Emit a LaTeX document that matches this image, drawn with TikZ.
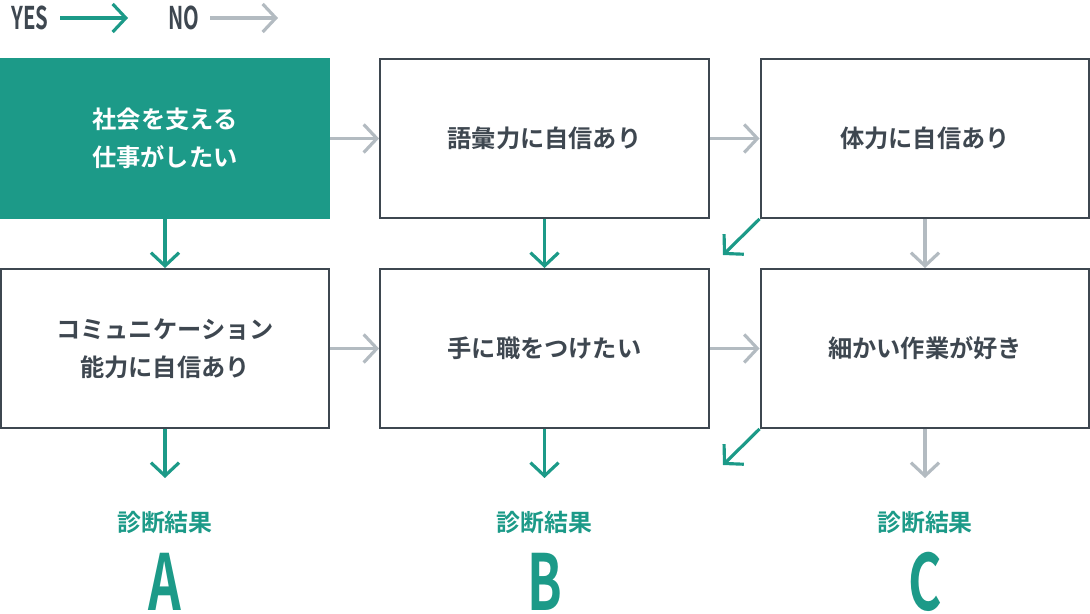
\documentclass[tikz,border=0pt]{standalone}
\usepackage{fontspec}
\setmainfont{Noto Sans CJK JP}[BoldFont={Noto Sans CJK JP Bold}]
\usepackage{tikz}
\usetikzlibrary{arrows.meta}
\definecolor{yescol}{HTML}{1C9A88}
\definecolor{nocol}{HTML}{B3BBC1}
\definecolor{inkcol}{HTML}{3E4750}
\tikzset{
  qbox/.style={draw=inkcol,line width=1.13pt,minimum width=6.58cm,minimum height=3.18cm,
    align=center,text=inkcol,font=\bfseries\fontsize{13.8}{21.5}\selectfont},
  startbox/.style={qbox,fill=yescol,draw=yescol,text=white},
  yesarrow/.style={draw=yescol,line width=1.8pt,-{Straight Barb[length=7.5pt,width=16pt]}},
  noarrow/.style={draw=nocol,line width=1.8pt,-{Straight Barb[length=7.5pt,width=16pt]}},
  result/.style={text=yescol,align=center,font=\bfseries\fontsize{13.6}{20}\selectfont},
  bigletter/.style={text=yescol,inner sep=0pt,font=\bfseries\fontsize{44}{44}\selectfont},
  legend/.style={text=inkcol,inner sep=0pt,font=\bfseries\fontsize{17.8}{18}\selectfont}
}
\begin{document}
\begin{tikzpicture}[x=0.02cm,y=-0.02cm]
\useasboundingbox (0,0) rectangle (1090,614);
% legend
\node[legend] (yes) at (30,18) {\scalebox{0.65}[1]{YES}};
\node[legend] (no) at (184,18) {\scalebox{0.65}[1]{NO}};
\coordinate (yesend) at (128,18);
\coordinate (noend) at (278,18);
\draw[yesarrow] (60,18) -- (yesend);
\draw[noarrow] (210,18) -- (noend);
% questions
\node[startbox] (q1) at (165,138.5) {社会を支える\\仕事がしたい};
\node[qbox] (q2) at (544.5,138.5) {語彙力に自信あり};
\node[qbox] (q3) at (925,138.5) {体力に自信あり};
\node[qbox] (q4) at (165,348.5) {コミュニケーション\\能力に自信あり};
\node[qbox] (q5) at (544.5,348.5) {手に職をつけたい};
\node[qbox] (q6) at (925,348.5) {細かい作業が好き};
% results
\node[result] (rA) at (165,522) {診断結果};
\node[result] (rB) at (544.5,522) {診断結果};
\node[result] (rC) at (925,522) {診断結果};
\node[bigletter] (lA) at (165,582) {\scalebox{0.66}[1]{A}};
\node[bigletter] (lB) at (544.5,582) {\scalebox{0.66}[1]{B}};
\node[bigletter] (lC) at (925,582) {\scalebox{0.66}[1]{C}};
\coordinate (d1) at (723,255);
\coordinate (d2) at (723,465);
\coordinate (eA) at (165,478);
\coordinate (eB) at (544.5,478);
\coordinate (eC) at (925,478);
% arrows
\draw[noarrow] (q1.east) -- (q2.west);
\draw[noarrow] (q2.east) -- (q3.west);
\draw[noarrow] (q4.east) -- (q5.west);
\draw[noarrow] (q5.east) -- (q6.west);
\draw[yesarrow] (q1.south) -- (q4.north);
\draw[yesarrow] (q2.south) -- (q5.north);
\draw[noarrow] (q3.south) -- (q6.north);
\draw[yesarrow] (q3.south west) -- (d1);
\draw[yesarrow] (q6.south west) -- (d2);
\draw[yesarrow] (q4.south) -- (eA);
\draw[yesarrow] (q5.south) -- (eB);
\draw[noarrow] (q6.south) -- (eC);
\end{tikzpicture}
\end{document}
